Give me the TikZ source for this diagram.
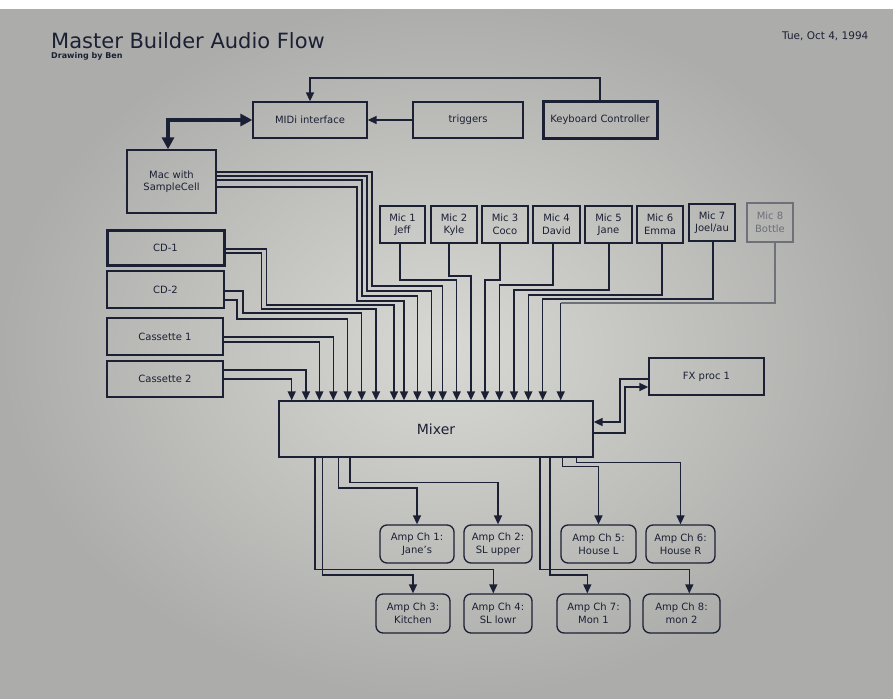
\documentclass[tikz,border=0pt]{standalone}
\usepackage{fontspec}
\setmainfont{DejaVu Sans}
\usetikzlibrary{arrows.meta}
\definecolor{ink}{RGB}{28,32,52}
\definecolor{paper}{RGB}{216,216,212}
\definecolor{paperdark}{RGB}{172,172,170}
\definecolor{faint}{RGB}{110,112,122}
\begin{document}
\begin{tikzpicture}[x=1pt,y=-1pt,
  wire/.style={draw=ink,line width=1.5pt},
  arr/.style={-{Triangle[length=9pt,width=8pt]}},
  box/.style={draw=ink,line width=1.3pt,text=ink,inner sep=0pt,align=center,font=\fontsize{10}{12.5}\selectfont},
  thickbox/.style={box,line width=3pt},
  amp/.style={box,rounded corners=7pt,font=\fontsize{10}{13}\selectfont},
  wh/.style 2 args={minimum width=#1pt,minimum height=#2pt}]
\useasboundingbox (0,0) rectangle (893,698);
\shade[inner color=paper,outer color=paperdark] (0,0) rectangle (893,698);
\fill[white] (0,0) rectangle (893,9);

% titles
\node[anchor=base west,inner sep=0pt,text depth=0pt,text=ink,font=\fontsize{21}{25}\selectfont] (title) at (51,48.5) {Master Builder Audio Flow};
\node[anchor=base west,inner sep=0pt,text height=6pt,text=ink,font=\fontsize{8}{10}\selectfont\bfseries] (author) at (51,58.5) {Drawing by Ben};
\node[anchor=base west,inner sep=0pt,text=ink,font=\fontsize{10.5}{12}\selectfont] (date) at (782,40) {Tue, Oct 4, 1994};

% top row
\node[box,wh={114}{36}] (midi) at (310,120) {MIDi interface};
\node[box,wh={110}{36}] (trig) at (468,120) {triggers};
\node[thickbox,wh={114}{36}] (kbd) at (600,120) {Keyboard Controller};

% sources
\node[box,wh={89}{63}] (mac) at (171.5,181.5) {Mac with\\SampleCell};
\node[thickbox,wh={117}{35}] (cd1) at (165.5,247.5) {CD-1};
\node[box,wh={117}{37}] (cd2) at (165.5,289.5) {CD-2};
\node[box,wh={116}{37}] (cas1) at (165,336.5) {Cassette 1};
\node[box,wh={116}{36}] (cas2) at (165,379) {Cassette 2};

% mics
\node[box,wh={45}{37}] (m1) at (402.5,224.5) {Mic 1\\Jeff};
\node[box,wh={46}{37}] (m2) at (454,224.5) {Mic 2\\Kyle};
\node[box,wh={46}{37}] (m3) at (505,224.5) {Mic 3\\Coco};
\node[box,wh={47}{37}] (m4) at (556.5,224.5) {Mic 4\\David};
\node[box,wh={47}{37}] (m5) at (608.5,224.5) {Mic 5\\Jane};
\node[box,wh={46}{37}] (m6) at (660,224.5) {Mic 6\\Emma};
\node[box,wh={46}{37}] (m7) at (712,222.5) {Mic 7\\Joel/au};
\node[box,draw=faint,text=faint,wh={46}{39}] (m8) at (770,222.5) {Mic 8\\Bottle};

% mixer and fx
\node[box,wh={314}{56},font=\fontsize{14}{16}\selectfont] (mixer) at (436,429) {Mixer};
\node[box,wh={115}{37}] (fx) at (706.5,376.5) {FX proc 1};

% amps
\node[amp,wh={74}{38}] (a1) at (417,544) {Amp Ch 1:\\Jane's};
\node[amp,wh={68}{38}] (a2) at (498,544) {Amp Ch 2:\\SL upper};
\node[amp,wh={75}{38}] (a5) at (598.5,544) {Amp Ch 5:\\House L};
\node[amp,wh={69}{38}] (a6) at (680.5,544) {Amp Ch 6:\\House R};
\node[amp,wh={74}{39}] (a3) at (413,613.5) {Amp Ch 3:\\Kitchen};
\node[amp,wh={68}{39}] (a4) at (498,613.5) {Amp Ch 4:\\SL lowr};
\node[amp,wh={73}{39}] (a7) at (593.5,613.5) {Amp Ch 7:\\Mon 1};
\node[amp,wh={77}{39}] (a8) at (681.5,613.5) {Amp Ch 8:\\mon 2};

% mixer input points
\coordinate (i1) at (291.7,0 |- mixer.north);
\coordinate (i2) at (306,0 |- mixer.north);
\coordinate (i3) at (319.3,0 |- mixer.north);
\coordinate (i4) at (333.3,0 |- mixer.north);
\coordinate (i5) at (347.7,0 |- mixer.north);
\coordinate (i6) at (361.7,0 |- mixer.north);
\coordinate (i7) at (376,0 |- mixer.north);
\coordinate (i8) at (394,0 |- mixer.north);
\coordinate (i9) at (404,0 |- mixer.north);
\coordinate (i10) at (417.3,0 |- mixer.north);
\coordinate (i11) at (431.7,0 |- mixer.north);
\coordinate (i12) at (442.7,0 |- mixer.north);
\coordinate (i13) at (456.7,0 |- mixer.north);
\coordinate (i14) at (471,0 |- mixer.north);
\coordinate (i15) at (485,0 |- mixer.north);
\coordinate (i16) at (499.3,0 |- mixer.north);
\coordinate (i17) at (514,0 |- mixer.north);
\coordinate (i18) at (528.3,0 |- mixer.north);
\coordinate (i19) at (542.7,0 |- mixer.north);
\coordinate (i20) at (560.7,0 |- mixer.north);

% top connections
\draw[wire,arr] (kbd.north) |- (midi.north |- 0,78) -- (midi.north);
\draw[wire,arr] (trig.west) -- (midi.east);
\draw[ink,line width=3.5pt,{Triangle[length=12pt,width=12pt]}-{Triangle[length=12pt,width=12pt]}] (168,0 |- mac.north) |- (midi.west);

% sources to mixer
\draw[wire,arr] (cas2.east |- 0,379) -| (i1);
\draw[wire,arr] (cas2.east |- 0,370) -| (i2);
\draw[wire,arr] (cas1.east |- 0,342) -| (i3);
\draw[wire,arr] (cas1.east |- 0,337) -| (i4);
\draw[wire,arr] (cd2.east |- 0,300) -| (237,319) -| (i5);
\draw[wire,arr] (cd2.east |- 0,291) -| (243,313) -| (i6);
\draw[wire,arr] (cd1.east |- 0,253) -| (261.7,309) -| (i7);
\draw[wire,arr] (cd1.east |- 0,249) -| (266.7,305) -| (i8);
\draw[wire,arr] (mac.east |- 0,187) -| (357,301) -| (i9);
\draw[wire,arr] (mac.east |- 0,180) -| (362,296) -| (i10);
\draw[wire,arr] (mac.east |- 0,176) -| (367,291) -| (i11);
\draw[wire,arr] (mac.east |- 0,172) -| (372,286) -| (i12);

% mics to mixer
\draw[wire,arr] (400,0 |- m1.south) |- (i13 |- 0,280) -- (i13);
\draw[wire,arr] (449,0 |- m2.south) |- (i14 |- 0,276) -- (i14);
\draw[wire,arr] (500,0 |- m3.south) |- (i15 |- 0,280) -- (i15);
\draw[wire,arr] (553,0 |- m4.south) |- (i16 |- 0,285) -- (i16);
\draw[wire,arr] (609,0 |- m5.south) |- (i17 |- 0,290) -- (i17);
\draw[wire,arr] (662,0 |- m6.south) |- (i18 |- 0,295) -- (i18);
\draw[wire,arr] (713,0 |- m7.south) |- (i19 |- 0,299) -- (i19);
\draw[wire,draw=faint] (775,0 |- m8.south) |- (i20 |- 0,303);
\draw[wire,arr] (i20 |- 0,303) -- (i20);

% fx loop
\draw[wire,arr] (fx.west |- 0,379) -| (620,422) -- (mixer.east |- 0,422);
\draw[wire,arr] (mixer.east |- 0,433) -| (625,387) -- (fx.west |- 0,387);

% outputs
\draw[wire,arr] (338.3,0 |- mixer.south) |- (a1.north |- 0,488) -- (a1.north);
\draw[wire,arr] (350,0 |- mixer.south) |- (a2.north |- 0,482.7) -- (a2.north);
\draw[wire,arr] (322.7,0 |- mixer.south) |- (a3.north |- 0,575) -- (a3.north);
\draw[wire,arr] (315,0 |- mixer.south) |- (493.3,569.3) -- (493.3,0 |- a4.north);
\draw[wire,arr] (562.3,0 |- mixer.south) |- (a5.north |- 0,466.7) -- (a5.north);
\draw[wire,arr] (576.7,0 |- mixer.south) |- (a6.north |- 0,462.7) -- (a6.north);
\draw[wire,arr] (550,0 |- mixer.south) |- (587.3,575) -- (587.3,0 |- a7.north);
\draw[wire,arr] (540,0 |- mixer.south) |- (689.3,569.3) -- (689.3,0 |- a8.north);
\end{tikzpicture}
\end{document}
